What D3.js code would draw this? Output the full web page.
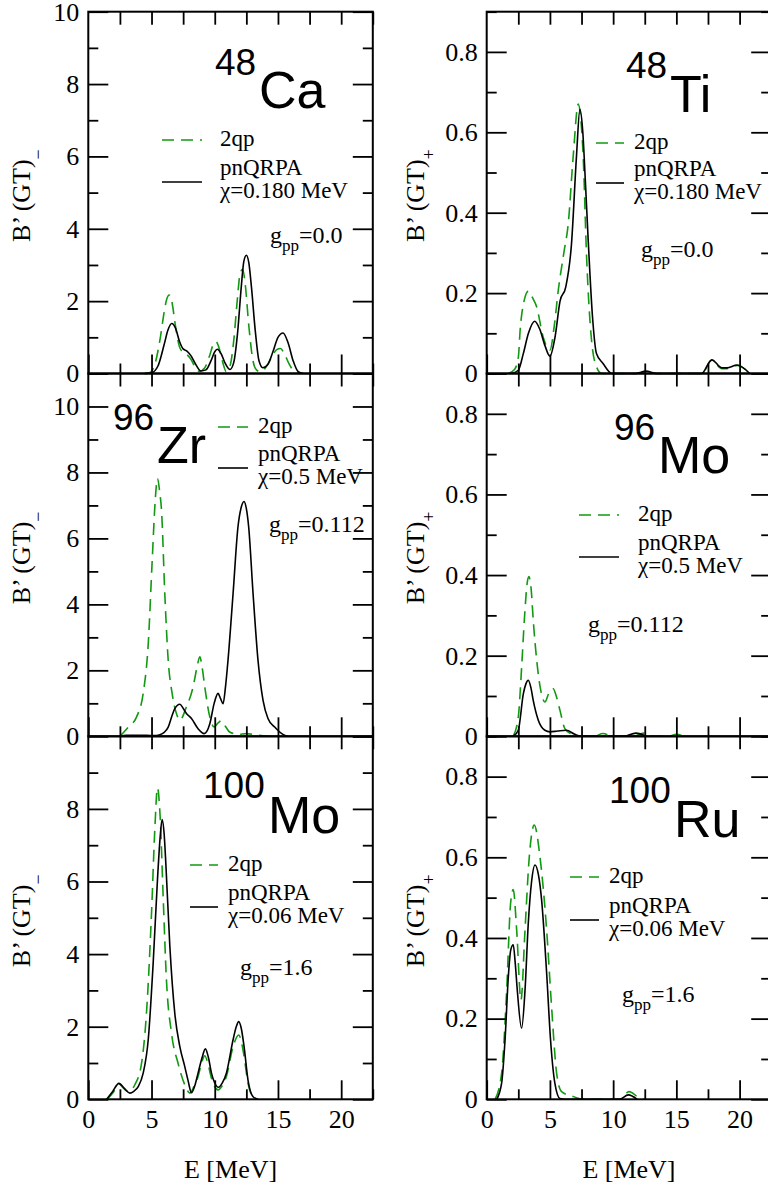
<!DOCTYPE html>
<html lang="en">
<head>
<meta charset="utf-8">
<title>GT strength distributions</title>
<script src="https://cdn.jsdelivr.net/npm/d3@7"></script>
<style>
  body { margin: 0; background: #fff; }
  svg text { font-family: "Liberation Serif", "Times New Roman", serif; fill: #000; }
  svg text.nucl { font-family: "Liberation Sans", Arial, sans-serif; }
</style>
</head>
<body>
<script>
// ---- data: [E (MeV), B'(GT)] ----
var ca48_2qp  = [[4.4,0],[4.9,0.03],[5.3,0.3],[5.7,1.0],[6.0,1.7],[6.2,2.05],[6.4,2.17],[6.6,2.0],[6.9,1.3],[7.2,0.75],[7.5,0.58],[7.8,0.52],[8.1,0.4],[8.5,0.15],[8.8,0.06],[9.2,0.15],[9.6,0.5],[9.9,0.82],[10.1,0.88],[10.3,0.75],[10.6,0.35],[10.9,0.06],[11.2,0.2],[11.5,0.9],[11.8,2.1],[12.0,2.75],[12.2,2.88],[12.4,2.5],[12.7,1.3],[13.0,0.4],[13.3,0.1],[13.6,0.05],[14.0,0.15],[14.5,0.45],[14.9,0.66],[15.2,0.69],[15.5,0.55],[15.9,0.25],[16.3,0.05],[16.7,0]];
var ca48_qrpa = [[4.5,0],[5.0,0.02],[5.5,0.2],[6.0,0.8],[6.3,1.2],[6.6,1.38],[6.9,1.25],[7.2,0.9],[7.5,0.68],[7.8,0.62],[8.1,0.5],[8.5,0.25],[8.9,0.07],[9.3,0.1],[9.7,0.35],[10.0,0.6],[10.2,0.67],[10.5,0.55],[10.8,0.3],[11.2,0.11],[11.5,0.3],[11.8,1.1],[12.1,2.4],[12.3,3.1],[12.5,3.27],[12.7,3.05],[12.9,2.4],[13.2,1.2],[13.5,0.35],[13.8,0.16],[14.2,0.25],[14.6,0.6],[15.0,1.0],[15.4,1.12],[15.8,0.85],[16.2,0.35],[16.6,0.05],[17.0,0]];

var ti48_2qp  = [[1.7,0],[2.2,0.01],[2.5,0.04],[2.65,0.11],[2.95,0.18],[3.3,0.205],[3.6,0.19],[3.95,0.166],[4.47,0.09],[5.0,0.058],[5.35,0.12],[5.66,0.207],[6.1,0.3],[6.45,0.373],[6.84,0.54],[7.24,0.67],[7.45,0.63],[7.63,0.54],[7.9,0.29],[8.29,0.083],[8.68,0.017],[9.1,0],[11.8,0],[12.6,0.004],[13.4,0],[17.0,0],[17.8,0.033],[18.6,0.012],[19.0,0.012],[19.8,0.02],[20.8,0]];
var ti48_qrpa = [[2.0,0],[2.5,0.008],[2.9,0.05],[3.3,0.1],[3.8,0.13],[4.2,0.11],[4.6,0.07],[5.0,0.043],[5.4,0.09],[5.8,0.18],[6.25,0.215],[6.7,0.32],[7.1,0.54],[7.37,0.657],[7.6,0.6],[7.8,0.48],[8.03,0.33],[8.37,0.14],[8.68,0.05],[9.2,0.025],[9.9,0],[11.8,0],[12.6,0.006],[13.4,0],[17.0,0],[17.8,0.034],[18.6,0.014],[19.0,0.014],[19.8,0.021],[20.8,0]];

var zr96_2qp  = [[2.5,0],[3.16,0.28],[3.82,0.59],[4.34,1.3],[4.74,2.8],[5.05,5.3],[5.3,7.2],[5.47,7.82],[5.65,7.4],[5.79,6.86],[6.05,4.33],[6.32,2.3],[6.63,1.3],[6.97,0.69],[7.24,0.49],[7.76,0.89],[8.29,1.5],[8.6,2.1],[8.82,2.41],[9.0,2.1],[9.21,1.5],[9.61,0.59],[9.95,0.28],[10.25,0.4],[10.53,0.47],[10.85,0.3],[11.18,0.13],[11.84,0.06],[12.5,0.08],[13.5,0.03],[14.3,0]];
var zr96_qrpa = [[2.5,0],[3.0,0.03],[4.6,0.03],[5.2,0.02],[5.66,0.05],[6.0,0.12],[6.32,0.28],[6.6,0.6],[6.84,0.84],[7.24,0.97],[7.5,0.85],[7.76,0.69],[8.16,0.54],[8.68,0.23],[9.16,0.08],[9.61,0.38],[9.95,0.99],[10.26,1.3],[10.45,1.15],[10.66,0.99],[10.85,1.5],[11.05,2.31],[11.45,4.33],[11.84,6.36],[12.1,6.95],[12.32,7.12],[12.5,6.9],[12.68,6.36],[13.03,4.33],[13.42,2.31],[13.82,1.09],[14.21,0.54],[14.74,0.28],[15.39,0.06],[15.8,0]];

var mo96_2qp  = [[2.1,0],[2.5,0.048],[2.76,0.17],[3.0,0.3],[3.2,0.38],[3.34,0.396],[3.5,0.37],[3.7,0.28],[3.95,0.19],[4.3,0.11],[4.6,0.085],[4.95,0.11],[5.26,0.118],[5.5,0.1],[5.79,0.065],[6.18,0.019],[6.71,0.005],[7.2,0],[8.5,0],[9.2,0.007],[9.9,0],[11.6,0],[12.4,0.008],[13.2,0],[14.4,0],[15.0,0.005],[15.6,0]];
var mo96_qrpa = [[2.1,0],[2.5,0.015],[2.9,0.106],[3.1,0.13],[3.29,0.139],[3.5,0.12],[3.68,0.089],[4.08,0.04],[4.6,0.015],[5.0,0.011],[5.6,0.013],[6.3,0.015],[6.97,0.005],[7.5,0],[10.8,0],[11.8,0.008],[12.6,0]];

var mo100_2qp  = [[1.5,0],[1.95,0.18],[2.42,0.42],[2.8,0.3],[3.16,0.21],[3.68,0.4],[4.21,0.99],[4.6,2.37],[5.0,5.13],[5.26,7.43],[5.47,8.58],[5.68,7.8],[5.92,5.59],[6.18,3.29],[6.58,1.82],[7.1,0.99],[7.63,0.4],[8.03,0.17],[8.35,0.35],[8.68,0.63],[9.0,1.05],[9.21,1.2],[9.45,1.0],[9.74,0.58],[10.26,0.26],[10.6,0.38],[10.92,0.63],[11.45,1.45],[11.9,1.77],[12.1,1.6],[12.32,1.18],[12.63,0.44],[13.03,0.07],[13.4,0]];
var mo100_qrpa = [[1.45,0],[1.9,0.2],[2.42,0.44],[2.85,0.3],[3.29,0.17],[3.6,0.22],[3.95,0.35],[4.34,0.72],[4.74,1.64],[5.13,3.75],[5.47,6.05],[5.7,7.3],[5.84,7.71],[6.0,7.3],[6.13,6.51],[6.45,4.21],[6.84,2.37],[7.24,1.45],[7.63,0.9],[7.9,0.5],[8.16,0.18],[8.4,0.35],[8.68,0.72],[9.0,1.15],[9.26,1.39],[9.5,1.15],[9.74,0.72],[10.0,0.45],[10.3,0.33],[10.6,0.45],[10.92,0.72],[11.45,1.64],[11.7,2.0],[11.9,2.14],[12.1,1.95],[12.32,1.45],[12.63,0.53],[13.03,0.07],[13.4,0]];

var ru100_2qp  = [[0.66,0],[1.18,0.065],[1.58,0.27],[1.89,0.486],[2.1,0.52],[2.37,0.42],[2.71,0.246],[3.03,0.42],[3.37,0.602],[3.76,0.68],[4.21,0.602],[4.74,0.42],[5.13,0.23],[5.53,0.065],[5.92,0.019],[6.84,0.007],[7.6,0],[10.5,0],[11.26,0.019],[12.1,0.003],[12.5,0]];
var ru100_qrpa = [[0.79,0],[1.18,0.04],[1.45,0.147],[1.71,0.304],[1.9,0.37],[2.1,0.383],[2.25,0.34],[2.42,0.27],[2.76,0.176],[3.03,0.27],[3.29,0.437],[3.55,0.54],[3.82,0.581],[4.1,0.555],[4.34,0.495],[4.74,0.313],[5.05,0.147],[5.39,0.04],[5.79,0.002],[6.2,0],[10.5,0],[11.2,0.011],[11.9,0]];

// tick values
var eMajor = [0, 5, 10, 15, 20];
var eMinor = [2.5, 7.5, 12.5, 17.5, 22.5];
var eAll = [2.5, 5, 7.5, 10, 12.5, 15, 17.5, 20, 22.5];
var minusMajor = [0, 2, 4, 6, 8, 10];
var minusMinor = [1, 3, 5, 7, 9, 11];
var plusMajor = [0, 0.2, 0.4, 0.6, 0.8];
var plusMinor = [0.1, 0.3, 0.5, 0.7, 0.9];

// ---- layout ----
var w = 768, h = 1197;
var colLeft = [88.3, 486.7], plotW = 284.5;
var rowEdge = [11.7, 373.5, 736.3, 1099.3];
var green = "#129912";
var serif = "'Liberation Serif', 'Times New Roman', serif";

var panels = [
  {col:0, row:0, ymax:10, two:ca48_2qp, qrpa:ca48_qrpa, A:"48", el:"Ca", chi:"\u03c7=0.180 MeV", g:"=0.0",
   aPos:[215,75], elPos:[259,108], leg:[162,202,140,182,220], gPos:[270,243]},
  {col:1, row:0, ymax:0.9, two:ti48_2qp, qrpa:ti48_qrpa, A:"48", el:"Ti", chi:"\u03c7=0.180 MeV", g:"=0.0",
   aPos:[626,78], elPos:[670,112], leg:[596,624,143,183,634], gPos:[641,257]},
  {col:0, row:1, ymax:11, two:zr96_2qp, qrpa:zr96_qrpa, A:"96", el:"Zr", chi:"\u03c7=0.5 MeV", g:"=0.112",
   aPos:[113,430], elPos:[157,463], leg:[218,248,427,468,258], gPos:[269,532]},
  {col:1, row:1, ymax:0.9, two:mo96_2qp, qrpa:mo96_qrpa, A:"96", el:"Mo", chi:"\u03c7=0.5 MeV", g:"=0.112",
   aPos:[614,440], elPos:[658,473], leg:[579,619,515,557,638], gPos:[588,632]},
  {col:0, row:2, ymax:10, two:mo100_2qp, qrpa:mo100_qrpa, A:"100", el:"Mo", chi:"\u03c7=0.06 MeV", g:"=1.6",
   aPos:[203,798], elPos:[268,833], leg:[190,218,865,907,228], gPos:[240,975]},
  {col:1, row:2, ymax:0.9, two:ru100_2qp, qrpa:ru100_qrpa, A:"100", el:"Ru", chi:"\u03c7=0.06 MeV", g:"=1.6",
   aPos:[609,803], elPos:[674,837], leg:[570,599,877,920,609], gPos:[622,1002]}
];

var svg = d3.select("body").append("svg")
    .attr("width", w)
    .attr("height", h);

function styleAxis(g) {
  g.attr("font-family", null).attr("font-size", null);
  g.select(".domain").remove();
  g.selectAll(".tick line").attr("stroke", "#000").attr("stroke-width", 1.8);
  g.selectAll("text")
    .style("font-family", serif)
    .style("font-size", "26px")
    .attr("fill", "#000");
}

function plusFmt(d) { return d === 0 ? "0" : d3.format(".1f")(d); }

panels.forEach(function(p) {
  var x0 = colLeft[p.col];
  var yTop = rowEdge[p.row], yBot = rowEdge[p.row + 1];
  var isPlus = p.col === 1;

  var xScale = d3.scaleLinear().domain([0, 22.5]).range([x0, x0 + plotW]);
  var yScale = d3.scaleLinear().domain([0, p.ymax]).range([yBot, yTop]);

  var major = isPlus ? plusMajor : minusMajor.filter(function(v) {
    return v <= p.ymax && !(p.row === 2 && v === 10);
  });
  var majorAll = isPlus ? plusMajor : minusMajor.filter(function(v) { return v <= p.ymax; });
  var minor = isPlus ? plusMinor : minusMinor.filter(function(v) { return v <= p.ymax; });

  var g = svg.append("g");

  // curves
  var line = d3.line()
    .x(function(d) { return xScale(d[0]); })
    .y(function(d) { return yScale(d[1]); })
    .curve(d3.curveMonotoneX);

  g.append("path").datum(p.two)
    .attr("d", line).attr("fill", "none")
    .attr("stroke", green).attr("stroke-width", 1.6)
    .attr("stroke-dasharray", "12,7");
  g.append("path").datum(p.qrpa)
    .attr("d", line).attr("fill", "none")
    .attr("stroke", "#000").attr("stroke-width", 1.6);

  // axes, ticks pointing inward
  styleAxis(g.append("g").attr("transform", "translate(0," + yBot + ")")
    .call(d3.axisBottom(xScale).tickValues(eMajor).tickSize(-19).tickPadding(10)
      .tickFormat(p.row === 2 ? d3.format("d") : "")));
  styleAxis(g.append("g").attr("transform", "translate(0," + yBot + ")")
    .call(d3.axisBottom(xScale).tickValues(eMinor).tickSize(-10).tickFormat("")));
  styleAxis(g.append("g").attr("transform", "translate(0," + yTop + ")")
    .call(d3.axisTop(xScale).tickValues(eAll).tickSize(-13).tickFormat("")));

  styleAxis(g.append("g").attr("transform", "translate(" + x0 + ",0)")
    .call(d3.axisLeft(yScale).tickValues(major).tickSize(-20).tickPadding(9)
      .tickFormat(isPlus ? plusFmt : d3.format("d"))));
  styleAxis(g.append("g").attr("transform", "translate(" + x0 + ",0)")
    .call(d3.axisLeft(yScale).tickValues(minor).tickSize(-10).tickFormat("")));
  styleAxis(g.append("g").attr("transform", "translate(" + (x0 + plotW) + ",0)")
    .call(d3.axisRight(yScale).tickValues(majorAll).tickSize(-20).tickFormat("")));
  styleAxis(g.append("g").attr("transform", "translate(" + (x0 + plotW) + ",0)")
    .call(d3.axisRight(yScale).tickValues(minor).tickSize(-10).tickFormat("")));

  // frame
  g.append("rect")
    .attr("x", x0).attr("y", yTop)
    .attr("width", plotW).attr("height", yBot - yTop)
    .attr("fill", "none").attr("stroke", "#000").attr("stroke-width", 2);

  // y axis title
  var yc = (yTop + yBot) / 2 + 3;
  var yt = g.append("text")
    .attr("transform", "translate(" + (isPlus ? 424 : 30) + "," + yc + ") rotate(-90)")
    .attr("text-anchor", "middle")
    .style("font-size", "26px");
  yt.append("tspan").text("B\u2019 (GT)");
  yt.append("tspan").attr("dy", isPlus ? 11 : 14).style("font-size", "18px").text(isPlus ? "+" : "\u2212");

  // nucleus label
  g.append("text").attr("class", "nucl")
    .attr("x", p.aPos[0]).attr("y", p.aPos[1]).style("font-size", "37px").text(p.A);
  g.append("text").attr("class", "nucl")
    .attr("x", p.elPos[0]).attr("y", p.elPos[1]).style("font-size", "52px").text(p.el);

  // legend
  var L = p.leg;
  g.append("line").attr("x1", L[0]).attr("x2", L[1]).attr("y1", L[2]).attr("y2", L[2])
    .attr("stroke", green).attr("stroke-width", 1.6).attr("stroke-dasharray", "12,7");
  g.append("line").attr("x1", L[0]).attr("x2", L[1]).attr("y1", L[3]).attr("y2", L[3])
    .attr("stroke", "#000").attr("stroke-width", 1.6);
  g.append("text").attr("x", L[4]).attr("y", L[2] + 6).style("font-size", "23px").text("2qp");
  g.append("text").attr("x", L[4]).attr("y", L[3] - 7).style("font-size", "23px").text("pnQRPA");
  g.append("text").attr("x", L[4]).attr("y", L[3] + 16).style("font-size", "23px").text(p.chi);

  // g_pp
  var gt = g.append("text").attr("x", p.gPos[0]).attr("y", p.gPos[1]).style("font-size", "24px");
  gt.append("tspan").text("g");
  gt.append("tspan").attr("dy", 8).style("font-size", "17px").text("pp");
  gt.append("tspan").attr("dy", -8).text(p.g);

  // x axis title
  if (p.row === 2) {
    g.append("text")
      .attr("x", x0 + plotW / 2).attr("y", 1178)
      .attr("text-anchor", "middle").style("font-size", "26px")
      .text("E [MeV]");
  }
});
</script>
</body>
</html>
